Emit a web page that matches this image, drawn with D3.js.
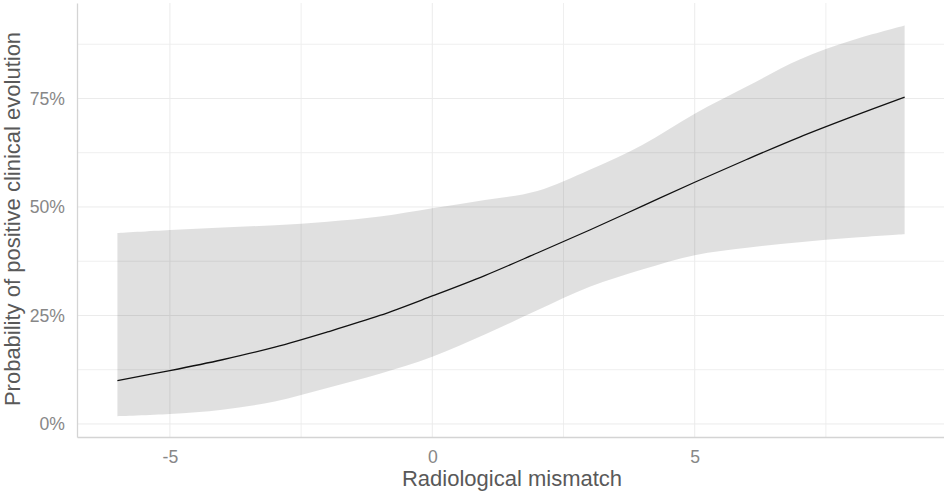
<!DOCTYPE html>
<html>
<head>
<meta charset="utf-8">
<script src="https://cdn.jsdelivr.net/npm/d3@7"></script>
<style>
  body { margin: 0; background: white; }
  svg { display: block; font-family: "Liberation Sans", Arial, sans-serif; }
</style>
</head>
<body>
<svg></svg>
<script>
// values (percent)
let mismatch = [-6, -5, -4, -3, -2, -1, 0, 1, 2, 3, 4, 5, 6, 7, 8, 9];
let fitted   = [10.0, 12.3, 14.8, 17.7, 21.2, 25.0, 29.5, 34.2, 39.4, 44.7, 50.2, 55.7, 61.0, 66.1, 70.8, 75.3];
let lowerCI  = [1.8, 2.3, 3.3, 5.2, 8.3, 11.6, 15.5, 20.6, 26.2, 31.6, 35.6, 38.9, 40.6, 41.9, 42.9, 43.7];
let upperCI  = [44.0, 44.7, 45.3, 45.8, 46.6, 47.8, 49.7, 51.6, 53.7, 58.6, 64.3, 71.5, 77.8, 84.0, 88.4, 91.8];

let xMajor = [-5, 0, 5];
let xMinor = [-2.5, 2.5, 7.5];
let yMajor = [0, 25, 50, 75];
let yMinor = [12.5, 37.5, 62.5, 87.5];

let width = 944;
let height = 495;
let paddings = { top: 3, right: 0, bottom: 58, left: 77 };

let svg = d3.select("svg")
            .attr("width", width)
            .attr("height", height);

let scaleX = d3.scaleLinear()
               .domain([-6.77, 9.75])
               .range([paddings.left, width - paddings.right]);

let scaleY = d3.scaleLinear()
               .domain([-3, 97])
               .range([height - paddings.bottom, paddings.top]);

let rows = mismatch.map((m, i) => ({ x: m, fit: fitted[i], lo: lowerCI[i], hi: upperCI[i] }));

// grid
function grid(values, color){
    svg.append("g")
       .selectAll("line.v")
       .data(values.x)
       .enter()
       .append("line")
       .attr("x1", d => scaleX(d))
       .attr("x2", d => scaleX(d))
       .attr("y1", paddings.top)
       .attr("y2", height - paddings.bottom)
       .attr("stroke", color)
       .attr("stroke-width", 1);

    svg.append("g")
       .selectAll("line.h")
       .data(values.y)
       .enter()
       .append("line")
       .attr("x1", paddings.left)
       .attr("x2", width - paddings.right)
       .attr("y1", d => scaleY(d))
       .attr("y2", d => scaleY(d))
       .attr("stroke", color)
       .attr("stroke-width", 1);
}
grid({ x: xMinor, y: yMinor }, "#efefef");
grid({ x: xMajor, y: yMajor }, "#ebebeb");

// confidence band
let band = d3.area()
             .x(d => scaleX(d.x))
             .y0(d => scaleY(d.lo))
             .y1(d => scaleY(d.hi))
             .curve(d3.curveCatmullRom.alpha(0.5));

svg.append("path")
   .datum(rows)
   .attr("d", band)
   .attr("fill", "#000")
   .attr("fill-opacity", 0.12);

let line = d3.line()
             .x(d => scaleX(d.x))
             .y(d => scaleY(d.fit))
             .curve(d3.curveCatmullRom.alpha(0.5));

svg.append("path")
   .datum(rows)
   .attr("d", line)
   .attr("fill", "none")
   .attr("stroke", "#111")
   .attr("stroke-width", 1.3);

// axes
let xAxis = d3.axisBottom(scaleX)
              .tickValues(xMajor)
              .tickSize(0)
              .tickPadding(13.5)
              .tickFormat(d => String(d));

let xg = svg.append("g")
            .attr("transform", `translate(0, ${height - paddings.bottom})`)
            .call(xAxis);

let yAxis = d3.axisLeft(scaleY)
              .tickValues(yMajor)
              .tickSize(0)
              .tickPadding(12)
              .tickFormat(d => d + "%");

let yg = svg.append("g")
            .attr("transform", `translate(${paddings.left}, 0)`)
            .call(yAxis);

[xg, yg].forEach(g => {
    g.select(".domain").attr("stroke", "#d4d4d4").attr("stroke-width", 1.3);
    g.selectAll("text")
     .attr("fill", "#878787")
     .style("font-size", "17.6px")
     .style("font-family", "'Liberation Sans', Arial, sans-serif");
});

// titles
svg.append("text")
   .attr("x", 512)
   .attr("y", 486)
   .attr("text-anchor", "middle")
   .attr("fill", "#595959")
   .style("font-size", "22px")
   .text("Radiological mismatch");

svg.append("text")
   .attr("transform", "translate(20, 219) rotate(-90)")
   .attr("text-anchor", "middle")
   .attr("fill", "#595959")
   .style("font-size", "22px")
   .text("Probability of positive clinical evolution");
</script>
</body>
</html>
